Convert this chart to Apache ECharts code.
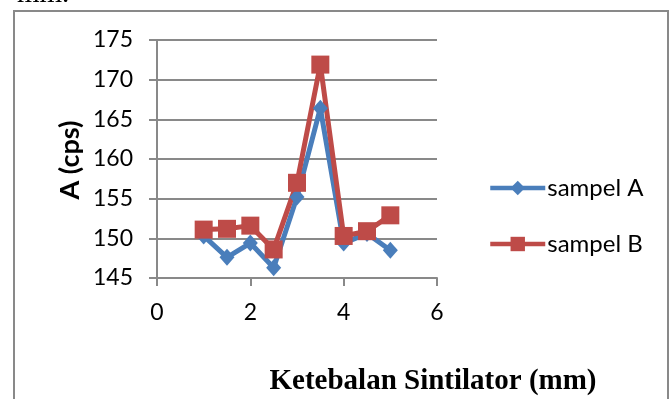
<!DOCTYPE html>
<html>
<head>
<meta charset="utf-8">
<script src="https://cdn.jsdelivr.net/npm/echarts@6/dist/echarts.min.js"></script>
<style>
html,body{margin:0;padding:0;background:#fff;}
#c{width:672px;height:399px;}
</style>
</head>
<body>
<div id="c"></div>
<script>
const thickness = [1, 1.5, 2, 2.5, 3, 3.5, 4, 4.5, 5];
const sampelA = [150.3, 147.6, 149.4, 146.3, 155.2, 166.4, 149.4, 150.6, 148.5];
const sampelB = [151.1, 151.2, 151.6, 148.6, 157.0, 171.9, 150.3, 150.9, 152.9];
const seriesNames = ['sampel A', 'sampel B'];
const xTitle = 'Ketebalan Sintilator (mm)';
const yTitle = 'A (cps)';
const topText = 'mm.';

const chart = echarts.init(document.getElementById('c'), null, {renderer: 'canvas'});
const axisGrey = '#898989';
const font = 'Lato';
const blue = '#4A7EBB';
const red = '#BE4B48';

function pairs(xs, ys) { return xs.map((x, i) => [x, ys[i]]); }

chart.setOption({
  animation: false,
  backgroundColor: '#fff',
  grid: {left: 157, top: 40, width: 280, height: 238, containLabel: false},
  xAxis: {
    type: 'value', min: 0, max: 6, interval: 2,
    axisLine: {show: true, onZero: false, lineStyle: {color: axisGrey, width: 2}},
    axisTick: {show: true, inside: false, length: 8, lineStyle: {color: axisGrey, width: 2}},
    axisLabel: {margin: 23, color: '#000', fontFamily: font, fontSize: 23},
    splitLine: {show: false}
  },
  yAxis: {
    type: 'value', min: 145, max: 175, interval: 5,
    axisLine: {show: true, lineStyle: {color: axisGrey, width: 2}},
    axisTick: {show: true, inside: false, length: 8, lineStyle: {color: axisGrey, width: 2}},
    axisLabel: {margin: 24, color: '#000', fontFamily: font, fontSize: 23},
    splitLine: {show: true, lineStyle: {color: axisGrey, width: 2}}
  },
  legend: {
    orient: 'vertical',
    left: 483, top: 171,
    itemWidth: 55, itemHeight: 18, itemGap: 32,
    lineStyle: {width: 4.5},
    textStyle: {color: '#000', fontFamily: font, fontSize: 24, padding: [0, 0, 0, -3]},
    data: seriesNames
  },
  series: [
    {
      name: seriesNames[0], type: 'line', data: pairs(thickness, sampelA),
      symbol: 'diamond', symbolSize: [15, 17],
      lineStyle: {color: blue, width: 5},
      itemStyle: {color: blue}
    },
    {
      name: seriesNames[1], type: 'line', data: pairs(thickness, sampelB),
      symbol: 'rect', symbolSize: 18,
      lineStyle: {color: red, width: 5},
      itemStyle: {color: red}
    }
  ],
  graphic: [
    {type: 'rect', shape: {x: 14, y: 11, width: 654, height: 420}, style: {fill: 'none', stroke: axisGrey, lineWidth: 2}, z: 0},
    {type: 'text', x: 17, y: 9, style: {text: topText, font: '29px "Liberation Serif"', fill: '#000', verticalAlign: 'bottom'}},
    {type: 'text', x: 70, y: 160, rotation: Math.PI / 2,
      style: {text: yTitle, font: 'bold 27px Lato', fill: '#000', textAlign: 'center', textVerticalAlign: 'middle'}},
    {type: 'text', x: 433, y: 382,
      style: {text: xTitle, font: 'bold 29px "Liberation Serif"', fill: '#000', textAlign: 'center', textVerticalAlign: 'middle'}}
  ]
});
</script>
</body>
</html>
